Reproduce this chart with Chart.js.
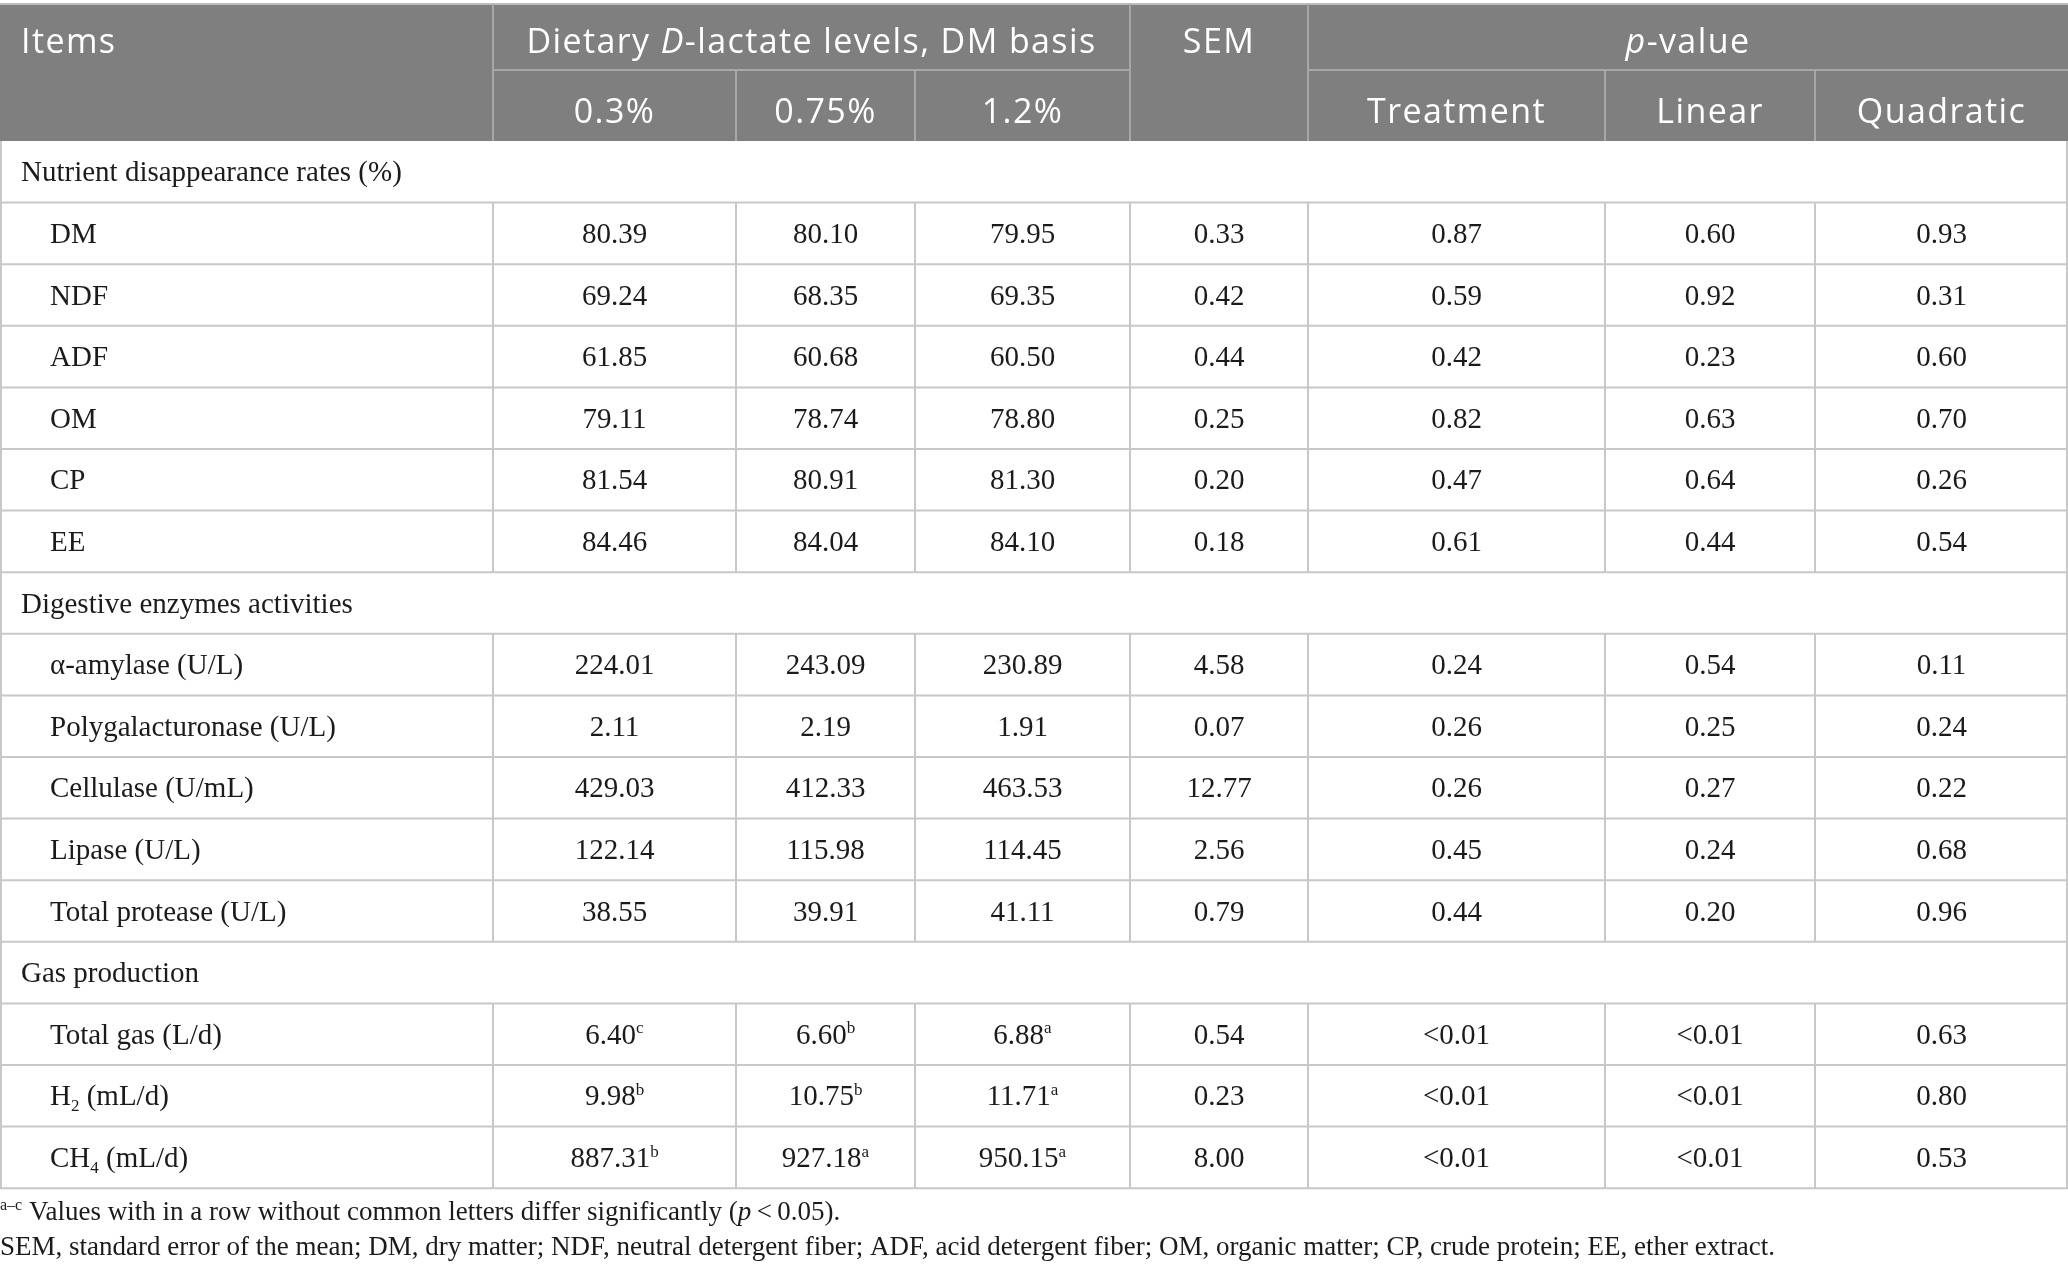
<!DOCTYPE html>
<html>
<head>
<meta charset="utf-8">
<script src="https://cdn.jsdelivr.net/npm/chart.js@4.4.1/dist/chart.umd.min.js"></script>
<style>
  html, body { margin: 0; padding: 0; background: #fff; overflow: hidden; }
  #wrap { width: 2068px; height: 1275px; }
</style>
</head>
<body>
<div id="wrap"><canvas id="tableChart" width="2068" height="1275"></canvas></div>
<script>
// ---- table data ----
const headItems = 'Items';
const headLevels = 'Dietary *D*-lactate levels, DM basis';
const headSem = 'SEM';
const headP = '*p*-value';
const levelLabels = ['0.3%', '0.75%', '1.2%'];
const pLabels = ['Treatment', 'Linear', 'Quadratic'];

const groupNames = ['Nutrient disappearance rates (%)', 'Digestive enzymes activities', 'Gas production'];
const itemGroups = [0, 0, 0, 0, 0, 0, 1, 1, 1, 1, 1, 2, 2, 2];
const itemNames = ['DM', 'NDF', 'ADF', 'OM', 'CP', 'EE',
  'α-amylase (U/L)', 'Polygalacturonase (U/L)', 'Cellulase (U/mL)', 'Lipase (U/L)', 'Total protease (U/L)',
  'Total gas (L/d)', 'H_{2} (mL/d)', 'CH_{4} (mL/d)'];

const level03  = [80.39, 69.24, 61.85, 79.11, 81.54, 84.46, 224.01, 2.11, 429.03, 122.14, 38.55, 6.40, 9.98, 887.31];
const level075 = [80.10, 68.35, 60.68, 78.74, 80.91, 84.04, 243.09, 2.19, 412.33, 115.98, 39.91, 6.60, 10.75, 927.18];
const level12  = [79.95, 69.35, 60.50, 78.80, 81.30, 84.10, 230.89, 1.91, 463.53, 114.45, 41.11, 6.88, 11.71, 950.15];
const sup03  = ['', '', '', '', '', '', '', '', '', '', '', 'c', 'b', 'b'];
const sup075 = ['', '', '', '', '', '', '', '', '', '', '', 'b', 'b', 'a'];
const sup12  = ['', '', '', '', '', '', '', '', '', '', '', 'a', 'a', 'a'];
const semValues = [0.33, 0.42, 0.44, 0.25, 0.20, 0.18, 4.58, 0.07, 12.77, 2.56, 0.79, 0.54, 0.23, 8.00];
const pTreatment = ['0.87', '0.59', '0.42', '0.82', '0.47', '0.61', '0.24', '0.26', '0.26', '0.45', '0.44', '<0.01', '<0.01', '<0.01'];
const pLinear    = ['0.60', '0.92', '0.23', '0.63', '0.64', '0.44', '0.54', '0.25', '0.27', '0.24', '0.20', '<0.01', '<0.01', '<0.01'];
const pQuadratic = ['0.93', '0.31', '0.60', '0.70', '0.26', '0.54', '0.11', '0.24', '0.22', '0.68', '0.96', '0.63', '0.80', '0.53'];

const footnotes = [
  '^{a–c} Values with in a row without common letters differ significantly (*p*\u2009<\u20090.05).',
  'SEM, standard error of the mean; DM, dry matter; NDF, neutral detergent fiber; ADF, acid detergent fiber; OM, organic matter; CP, crude protein; EE, ether extract.'
];

// ---- layout (table units = px of the reference) ----
const W = 2068, H = 1275;
const colEdges = [0, 493, 736, 915, 1130, 1308, 1605, 1815, 2068];
const headTop = 4, headMid = 70, headBottom = 141, rowH = 61.6;
const SANS = '"Open Sans", "Noto Sans", sans-serif';
const SERIF = '"Liberation Serif", "DejaVu Serif", serif';
const headSize = 34, headSpacing = 1.4, bodySize = 29, noteSize = 27;
const headBg = '#7f7f7f', headLine = '#a7a7a7', gridLine = '#c8c8c8', ink = '#1b1b1b';

// build row list: group rows then their items
const rows = [];
groupNames.forEach((g, gi) => {
  rows.push({ group: true, label: g });
  itemGroups.forEach((ig, i) => {
    if (ig !== gi) return;
    rows.push({
      group: false,
      label: itemNames[i],
      cells: [
        level03[i].toFixed(2) + (sup03[i] ? '^{' + sup03[i] + '}' : ''),
        level075[i].toFixed(2) + (sup075[i] ? '^{' + sup075[i] + '}' : ''),
        level12[i].toFixed(2) + (sup12[i] ? '^{' + sup12[i] + '}' : ''),
        semValues[i].toFixed(2),
        pTreatment[i], pLinear[i], pQuadratic[i]
      ]
    });
  });
});

function parseRich(str) {
  const parts = [];
  const re = /\*([^*]+)\*|\^\{([^}]*)\}|_\{([^}]*)\}/g;
  let last = 0, m;
  while ((m = re.exec(str))) {
    if (m.index > last) parts.push({ t: str.slice(last, m.index) });
    if (m[1] !== undefined) parts.push({ t: m[1], it: true });
    else if (m[2] !== undefined) parts.push({ t: m[2], sup: true });
    else parts.push({ t: m[3], sub: true });
    last = re.lastIndex;
  }
  if (last < str.length) parts.push({ t: str.slice(last) });
  return parts;
}

function drawRich(ctx, str, x, y, align, size, family, color, spacing) {
  const parts = parseRich(str);
  const fontFor = p => (p.it ? 'italic ' : '') + (p.sup || p.sub ? Math.round(size * 0.6) : size) + 'px ' + family;
  ctx.letterSpacing = (spacing || 0) + 'px';
  let w = 0;
  parts.forEach(p => { ctx.font = fontFor(p); p.w = ctx.measureText(p.t).width; w += p.w; });
  let cx = align === 'center' ? x - w / 2 : align === 'right' ? x - w : x;
  ctx.fillStyle = color;
  ctx.textAlign = 'left';
  ctx.textBaseline = 'alphabetic';
  parts.forEach(p => {
    ctx.font = fontFor(p);
    const dy = p.sup ? -size * 0.36 : p.sub ? size * 0.2 : 0;
    ctx.fillText(p.t, cx, y + dy);
    cx += p.w;
  });
  ctx.letterSpacing = '0px';
}

const tablePlugin = {
  id: 'tablePlugin',
  beforeDatasetsDraw(chart) {
    const { ctx, scales: { x, y } } = chart;
    const px = v => x.getPixelForValue(v);
    const py = v => y.getPixelForValue(v);
    const colMid = c => px((colEdges[c] + colEdges[c + 1]) / 2);
    const line = (x1, y1, x2, y2, color, lw) => {
      ctx.strokeStyle = color; ctx.lineWidth = lw;
      ctx.beginPath(); ctx.moveTo(px(x1), py(y1)); ctx.lineTo(px(x2), py(y2)); ctx.stroke();
    };
    ctx.save();

    // header block
    ctx.fillStyle = headBg;
    ctx.fillRect(px(0), py(headTop), px(W) - px(0), py(headBottom) - py(headTop));
    line(0, headTop, W, headTop, '#bdbdbd', 2);
    [1, 4, 5].forEach(c => line(colEdges[c], headTop, colEdges[c], headBottom, headLine, 2));
    [2, 3, 6, 7].forEach(c => line(colEdges[c], headMid, colEdges[c], headBottom, headLine, 2));
    line(colEdges[1], headMid, colEdges[4], headMid, headLine, 2);
    line(colEdges[5], headMid, colEdges[8], headMid, headLine, 2);

    const hb1 = py(53), hb2 = py(123), hs = headSpacing;
    drawRich(ctx, headItems, px(21), hb1, 'left', headSize, SANS, '#fff', hs);
    drawRich(ctx, headLevels, px((colEdges[1] + colEdges[4]) / 2), hb1, 'center', headSize, SANS, '#fff', hs);
    drawRich(ctx, headSem, colMid(4), hb1, 'center', headSize, SANS, '#fff', hs);
    drawRich(ctx, headP, px((colEdges[5] + colEdges[8]) / 2), hb1, 'center', headSize, SANS, '#fff', hs);
    levelLabels.forEach((l, i) => drawRich(ctx, l, colMid(1 + i), hb2, 'center', headSize, SANS, '#fff', hs));
    pLabels.forEach((l, i) => drawRich(ctx, l, colMid(5 + i), hb2, 'center', headSize, SANS, '#fff', hs));

    // body rows
    rows.forEach((r, ri) => {
      const top = headBottom + ri * rowH, bot = top + rowH;
      const base = py((top + bot) / 2) + bodySize * 0.33;
      if (r.group) {
        drawRich(ctx, r.label, px(21), base, 'left', bodySize, SERIF, ink);
      } else {
        drawRich(ctx, r.label, px(50), base, 'left', bodySize, SERIF, ink);
        r.cells.forEach((c, ci) => drawRich(ctx, c, colMid(ci + 1), base, 'center', bodySize, SERIF, ink));
        for (let c = 1; c < colEdges.length - 1; c++) line(colEdges[c], top, colEdges[c], bot, gridLine, 2);
      }
      line(0, bot, W, bot, gridLine, 2);
    });
    const tableBottom = headBottom + rows.length * rowH;
    line(1, headBottom, 1, tableBottom, gridLine, 2);
    line(W - 1, headBottom, W - 1, tableBottom, gridLine, 2);

    // footnotes
    drawRich(ctx, footnotes[0], px(0), py(1220), 'left', noteSize, SERIF, ink);
    drawRich(ctx, footnotes[1], px(0), py(1255), 'left', noteSize, SERIF, ink);
    ctx.restore();
  }
};

new Chart(document.getElementById('tableChart'), {
  type: 'scatter',
  data: { datasets: [{ data: [], pointRadius: 0 }] },
  options: {
    responsive: false,
    animation: false,
    devicePixelRatio: 1,
    layout: { padding: 0 },
    plugins: { legend: { display: false }, tooltip: { enabled: false } },
    scales: {
      x: { type: 'linear', min: 0, max: W, display: false },
      y: { type: 'linear', min: 0, max: H, reverse: true, display: false }
    }
  },
  plugins: [tablePlugin]
});
</script>
</body>
</html>
